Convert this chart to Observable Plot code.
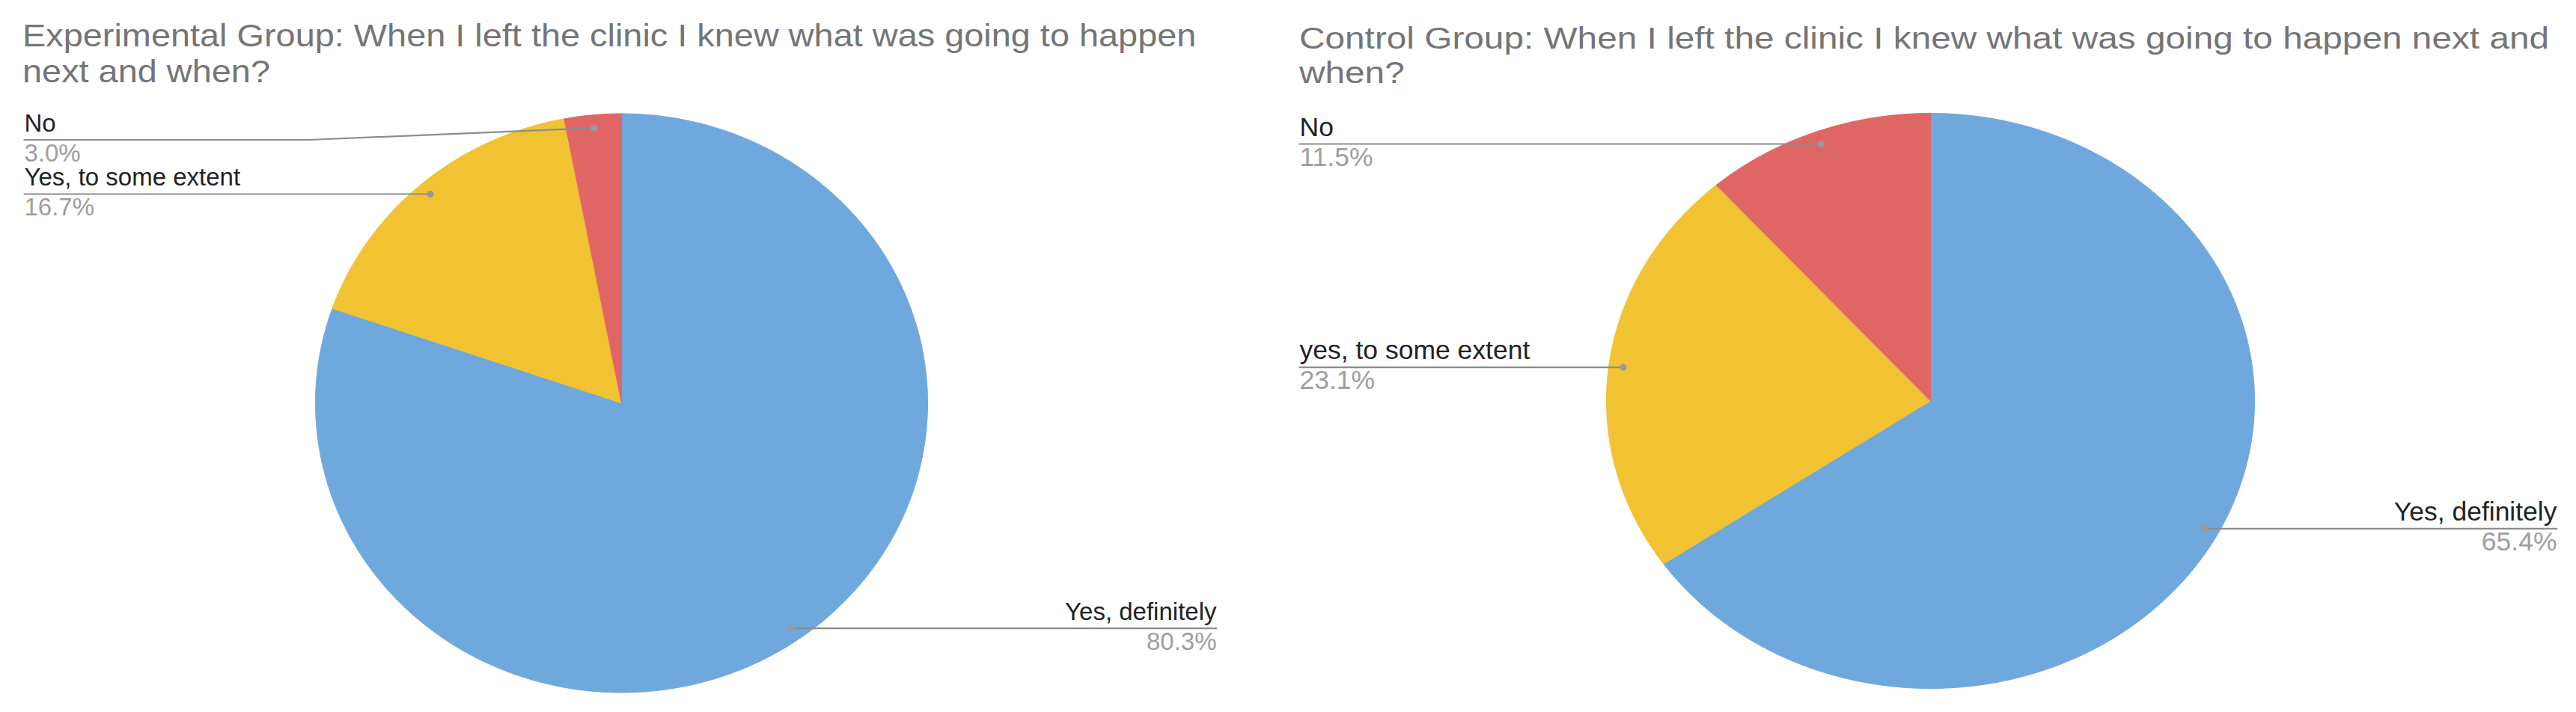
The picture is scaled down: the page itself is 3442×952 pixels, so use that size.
<!DOCTYPE html>
<html>
<head>
<meta charset="utf-8">
<script src="https://cdn.jsdelivr.net/npm/d3@7"></script>
<script src="https://cdn.jsdelivr.net/npm/@observablehq/plot@0.6"></script>
<style>
  html, body { margin: 0; padding: 0; background: #fff; }
  #wrap { display: flex; width: 3442px; height: 952px; overflow: hidden; background: #fff; }
  .panel { position: relative; flex: none; }
  .title { box-sizing: border-box; position: relative; }
  .title .txt { position: absolute; color: #757575; font-family: "Liberation Sans", Arial, sans-serif; white-space: nowrap; transform-origin: 0 0; }
  .title .txt div { white-space: nowrap; }
</style>
</head>
<body>
<div id="wrap"></div>
<script>
// ---- data ----
const expCategories = ["Yes, definitely", "Yes, to some extent", "No"];
const expValues = [80.3, 16.7, 3.0];
const expTitle = ["Experimental Group: When I left the clinic I knew what was going to happen", "next and when?"];

const ctlCategories = ["Yes, definitely", "yes, to some extent", "No"];
const ctlValues = [65.4, 23.1, 11.5];
const ctlTitle = ["Control Group: When I left the clinic I knew what was going to happen next and", "when?"];

const sliceColors = ["#6fa8dc", "#f1c232", "#e06666"];
const FONT = '"Liberation Sans", Arial, Helvetica, sans-serif';

// ---- layout (pixels) ----
const TITLE_H = 120;
const panels = [
  {categories: expCategories, values: expValues, title: expTitle,
   W: 1721, cx: 830, cy: 538.5, rx: 409, ry: 387, labelLeft: 32, labelRight: 1625,
   fontSize: 33, titleSize: 43, titleLine: 48, titleTop: 23, titleLeft: 30, titleStretch: 1.09},
  {categories: ctlCategories, values: ctlValues, title: ctlTitle,
   W: 1721, cx: 858, cy: 535.5, rx: 433, ry: 384.5, labelLeft: 15, labelRight: 1695,
   fontSize: 35.5, titleSize: 41, titleLine: 46, titleTop: 28, titleLeft: 15, titleStretch: 1.165}
];

function buildPanel(p) {
  const H = 952 - TITLE_H;
  const cy = p.cy - TITLE_H;
  const total = d3.sum(p.values);
  let cum = 0;
  const slices = p.values.map((v, i) => {
    const a0 = cum / total * 2 * Math.PI; cum += v;
    const a1 = cum / total * 2 * Math.PI;
    return {i, name: p.categories[i], value: v, a0, a1, mid: (a0 + a1) / 2};
  });
  const pts = [];
  for (const s of slices) {
    const n = Math.max(2, Math.ceil((s.a1 - s.a0) / (2 * Math.PI) * 720));
    pts.push({i: s.i, x: p.cx, y: cy});
    for (let k = 0; k <= n; k++) {
      const a = s.a0 + (s.a1 - s.a0) * k / n;
      pts.push({i: s.i, x: p.cx + p.rx * Math.sin(a), y: cy - p.ry * Math.cos(a)});
    }
    pts.push({i: s.i, x: p.cx, y: cy});
  }
  const pieTop = cy - p.ry;
  const labels = slices.map(s => {
    const px = p.cx + 0.955 * p.rx * Math.sin(s.mid);
    const py = cy - 0.955 * p.ry * Math.cos(s.mid);
    const right = Math.sin(s.mid) > 0;
    const ly = Math.max(py, pieTop + 35);
    const ex = right ? p.labelRight : p.labelLeft;
    return {...s, dotX: px, dotY: py, ly, ex, right, pct: s.value.toFixed(1) + "%"};
  });
  const leaders = labels.flatMap(l => {
    const bx = (l.ex + l.dotX) / 2;
    return [{i: l.i, x: l.ex, y: l.ly}, {i: l.i, x: bx, y: l.ly}, {i: l.i, x: l.dotX, y: l.dotY}];
  });
  const L = labels.filter(d => !d.right), R = labels.filter(d => d.right);

  const plot = Plot.plot({
    width: p.W, height: H,
    marginTop: 0, marginRight: 0, marginBottom: 0, marginLeft: 0,
    x: {domain: [0, p.W], axis: null},
    y: {domain: [H, 0], axis: null},
    color: {type: "ordinal", domain: [0, 1, 2], range: sliceColors},
    style: {fontFamily: FONT, background: "white", overflow: "visible"},
    marks: [
      Plot.line(pts, {x: "x", y: "y", z: "i", fill: "i", stroke: "i", strokeWidth: 1, curve: "linear"}),
      Plot.line(leaders, {x: "x", y: "y", z: "i", stroke: "#8c8c8c", strokeWidth: 2.2}),
      Plot.dot(labels, {x: "dotX", y: "dotY", r: 4.5, fill: "#9a9a9a"}),
      Plot.text(L, {x: "ex", y: "ly", text: "name", textAnchor: "start", lineAnchor: "bottom", dy: -11, fontSize: p.fontSize, fill: "#222"}),
      Plot.text(L, {x: "ex", y: "ly", text: "pct", textAnchor: "start", lineAnchor: "bottom", dy: 29, fontSize: p.fontSize, fill: "#9e9e9e"}),
      Plot.text(R, {x: "ex", y: "ly", text: "name", textAnchor: "end", lineAnchor: "bottom", dy: -11, fontSize: p.fontSize, fill: "#222"}),
      Plot.text(R, {x: "ex", y: "ly", text: "pct", textAnchor: "end", lineAnchor: "bottom", dy: 29, fontSize: p.fontSize, fill: "#9e9e9e"})
    ]
  });

  const panel = document.createElement("div");
  panel.className = "panel";
  panel.style.width = p.W + "px";
  const t = document.createElement("div");
  t.className = "title";
  t.style.height = TITLE_H + "px";
  const txt = document.createElement("div");
  txt.className = "txt";
  txt.style.top = p.titleTop + "px";
  txt.style.left = p.titleLeft + "px";
  txt.style.fontSize = p.titleSize + "px";
  txt.style.lineHeight = p.titleLine + "px";
  txt.style.transform = `scaleX(${p.titleStretch})`;
  for (const line of p.title) {
    const d = document.createElement("div");
    d.textContent = line;
    txt.appendChild(d);
  }
  t.appendChild(txt);
  panel.appendChild(t);
  panel.appendChild(plot);
  return panel;
}

const wrap = document.getElementById("wrap");
for (const p of panels) wrap.appendChild(buildPanel(p));
</script>
</body>
</html>
